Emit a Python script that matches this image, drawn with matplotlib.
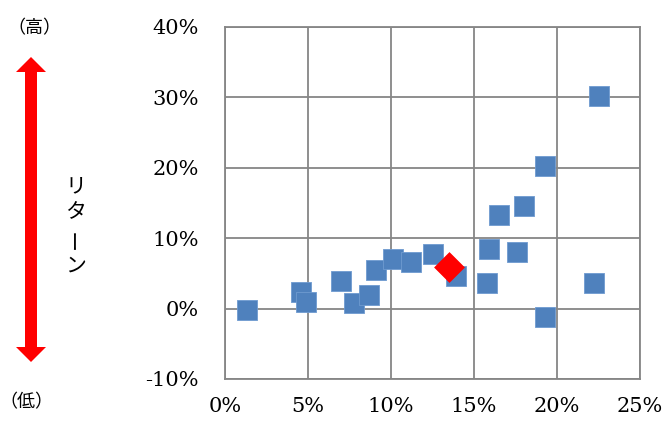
import matplotlib
matplotlib.use('Agg')
import matplotlib.pyplot as plt
from matplotlib.patches import FancyArrow

# risk (x, %) and return (y, %) of each fund
risk = [1.3, 4.6, 4.85, 7.0, 7.75, 8.7, 9.1, 10.1, 11.2, 12.5, 13.9,
        15.9, 15.8, 16.5, 18.0, 17.6, 19.3, 19.3, 22.5, 22.2]
ret = [-0.2, 2.4, 1.0, 3.85, 0.85, 2.0, 5.45, 7.05, 6.6, 7.8, 4.6,
       8.5, 3.7, 13.3, 14.55, 8.1, 20.2, -1.2, 30.25, 3.65]
# highlighted portfolio
hl_risk = [13.5]
hl_ret = [5.9]

xticks = [0, 5, 10, 15, 20, 25]
xlabels = ['0%', '5%', '10%', '15%', '20%', '25%']
yticks = [-10, 0, 10, 20, 30, 40]
ylabels = ['-10%', '0%', '10%', '20%', '30%', '40%']

BLUE = "#4f81bd"; RED = "#ff0000"; GRID = "#868686"
SERIF = ['DejaVu Serif']
JP = ['Noto Sans CJK JP', 'DejaVu Sans']

fig = plt.figure(figsize=(6.67, 4.32), dpi=100, facecolor='white')
ax = fig.add_axes([225/667, 53/432, 415/667, 352/432])

ax.scatter(risk, ret, marker='s', s=215, color=BLUE, edgecolors='#6f9bd0',
           linewidths=0.6, zorder=3)
ax.scatter(hl_risk, hl_ret, marker='D', s=230, color=RED, edgecolors=RED,
           linewidths=0.5, zorder=4)

ax.set_xlim(xticks[0], xticks[-1]); ax.set_ylim(yticks[0], yticks[-1])
ax.set_xticks(xticks, xlabels, fontfamily=SERIF, fontsize=15)
ax.set_yticks(yticks, ylabels, fontfamily=SERIF, fontsize=15)
ax.grid(True, color=GRID, lw=1.3, zorder=0)
ax.set_axisbelow(True)
for sp in ax.spines.values():
    sp.set_color(GRID); sp.set_linewidth(1.3)
ax.tick_params(length=0)
ax.tick_params(axis='y', pad=19)
ax.tick_params(axis='x', pad=13)

# left-side return annotation
fig.text(34/667, 1-28/432, "（高）", family=JP, fontsize=13, ha='center', va='center')
fig.text(26/667, 1-402/432, "（低）", family=JP, fontsize=13, ha='center', va='center')
ymid = (432 - 210) / 100
for yend in (432 - 57, 432 - 362):
    dy = yend / 100 - ymid
    fig.patches.append(FancyArrow(0.31, ymid, 0, dy, width=0.12, head_width=0.30,
                                  head_length=0.15, length_includes_head=True,
                                  color=RED, lw=0, transform=fig.dpi_scale_trans))
for i, ch in enumerate("リターン"):
    fig.text(76/667, 1-(186+i*26.5)/432, ch, family=JP, fontsize=15, ha='center', va='center',
             rotation=90 if ch == 'ー' else 0)

fig.savefig("out.png", dpi=100, facecolor='white')
